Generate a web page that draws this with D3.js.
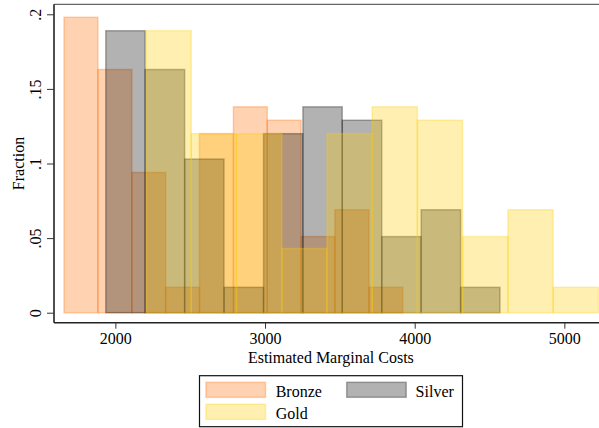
<!DOCTYPE html>
<html>
<head>
<meta charset="utf-8">
<script src="https://cdn.jsdelivr.net/npm/d3@7"></script>
<style>
  html, body { margin: 0; padding: 0; background: #fff; }
  svg { display: block; }
  text { font-family: "Liberation Serif", "Times New Roman", serif; fill: #000; }
</style>
</head>
<body>
<svg id="chart" width="599" height="428"></svg>
<script>
// ---- data ----
const seriesNames = ["Bronze", "Silver", "Gold"];
// bin edges (Estimated Marginal Costs)
const bronzeEdges = [1657, 1883, 2110, 2336, 2562, 2789, 3015, 3241, 3467, 3694, 3920];
const silverEdges = [1936, 2199, 2463, 2726, 2990, 3253, 3516, 3780, 4043, 4307, 4570];
const goldEdges   = [2205, 2507, 2809, 3112, 3414, 3716, 4018, 4320, 4623, 4925, 5227];
// fractions per bin
const bronzeValues = [0.198, 0.163, 0.094, 0.017, 0.120, 0.138, 0.129, 0.051, 0.069, 0.017];
const silverValues = [0.189, 0.163, 0.103, 0.017, 0.120, 0.138, 0.129, 0.051, 0.069, 0.017];
const goldValues   = [0.189, 0.120, 0.120, 0.043, 0.120, 0.138, 0.129, 0.051, 0.069, 0.017];
const xTicks = [2000, 3000, 4000, 5000];
const yTicks = [0, 0.05, 0.1, 0.15, 0.2];
const yTickLabels = ["0", ".05", ".1", ".15", ".2"];
const xTitle = "Estimated Marginal Costs";
const yTitle = "Fraction";

// ---- styles ----
const colors = { Bronze: "rgb(255,110,0)", Silver: "rgb(0,0,0)", Gold: "rgb(255,205,0)" };
const alpha = 0.3;

const svg = d3.select("#chart");
const plot = { left: 54, right: 610, top: 4.3, bottom: 322.7 };

const x = d3.scaleLinear().domain([1590, 5305]).range([plot.left, plot.right]);
const y = d3.scaleLinear().domain([-0.0067, 0.2067]).range([plot.bottom, plot.top]);

const series = [
  { name: "Bronze", edges: bronzeEdges, values: bronzeValues },
  { name: "Silver", edges: silverEdges, values: silverValues },
  { name: "Gold",   edges: goldEdges,   values: goldValues }
];

const clip = svg.append("defs").append("clipPath").attr("id", "pc")
  .append("rect").attr("x", plot.left).attr("y", plot.top)
  .attr("width", plot.right - plot.left).attr("height", plot.bottom - plot.top);

const gBars = svg.append("g").attr("clip-path", "url(#pc)");
series.forEach(s => {
  const bins = s.values.map((v, i) => ({ x0: s.edges[i], x1: s.edges[i + 1], v }));
  gBars.append("g").selectAll("rect").data(bins).join("rect")
    .attr("x", d => x(d.x0))
    .attr("width", d => x(d.x1) - x(d.x0))
    .attr("y", d => y(d.v))
    .attr("height", d => y(0) - y(d.v))
    .attr("fill", colors[s.name]).attr("fill-opacity", alpha)
    .attr("stroke", colors[s.name]).attr("stroke-opacity", alpha)
    .attr("stroke-width", 1.5);
});

// plot region outline (top)
svg.append("line").attr("x1", plot.left).attr("x2", 599).attr("y1", plot.top).attr("y2", plot.top)
  .attr("stroke", "#666").attr("stroke-width", 1.3);

// x axis
const xAxis = d3.axisBottom(x).tickValues(xTicks).tickFormat(d3.format("d")).tickSize(6).tickPadding(4);
const gx = svg.append("g").attr("transform", `translate(0,${plot.bottom})`).call(xAxis);
gx.select(".domain").attr("stroke", "#222").attr("stroke-width", 1.6)
  .attr("d", `M${plot.left},0H${plot.right}`);
gx.selectAll(".tick line").attr("stroke", "#333").attr("stroke-width", 1);
gx.selectAll(".tick text").attr("font-family", "Liberation Serif").attr("font-size", 16).attr("fill", "#000");

// y axis
const yAxis = d3.axisLeft(y).tickValues(yTicks).tickFormat((d, i) => yTickLabels[i]).tickSize(7).tickPadding(0);
const gy = svg.append("g").attr("transform", `translate(${plot.left},0)`).call(yAxis);
gy.select(".domain").attr("stroke", "#222").attr("stroke-width", 1.6)
  .attr("d", `M0,${plot.top}V${plot.bottom}`);
gy.selectAll(".tick line").attr("stroke", "#333").attr("stroke-width", 1);
gy.selectAll(".tick text")
  .attr("font-family", "Liberation Serif").attr("font-size", 16).attr("fill", "#000")
  .attr("x", null).attr("dy", null)
  .attr("text-anchor", "middle")
  .attr("transform", "translate(-13,0) rotate(-90)");

// titles
svg.append("text").attr("x", x(3000) + (x(4000) - x(3000)) * 0.44).attr("y", 363)
  .attr("text-anchor", "middle").attr("font-size", 16).text(xTitle);
svg.append("text").attr("transform", "translate(24,163.5) rotate(-90)")
  .attr("text-anchor", "middle").attr("font-size", 16).text(yTitle);

// legend
const lg = svg.append("g");
lg.append("rect").attr("x", 199.5).attr("y", 375.7).attr("width", 263).attr("height", 51)
  .attr("fill", "#fff").attr("stroke", "#111").attr("stroke-width", 1.2);
const legendItems = [
  { name: "Bronze", sx: 206, sy: 382.3, tx: 275.7, ty: 396.7 },
  { name: "Silver", sx: 346.7, sy: 382.3, tx: 415.6, ty: 396.7 },
  { name: "Gold",   sx: 206, sy: 404.3, tx: 275.7, ty: 418.7 }
];
legendItems.forEach(it => {
  lg.append("rect").attr("x", it.sx).attr("y", it.sy).attr("width", 59.5).attr("height", 15)
    .attr("fill", colors[it.name]).attr("fill-opacity", alpha)
    .attr("stroke", colors[it.name]).attr("stroke-opacity", alpha).attr("stroke-width", 1.5);
  lg.append("text").attr("x", it.tx).attr("y", it.ty).attr("font-size", 16).text(it.name);
});
</script>
</body>
</html>
